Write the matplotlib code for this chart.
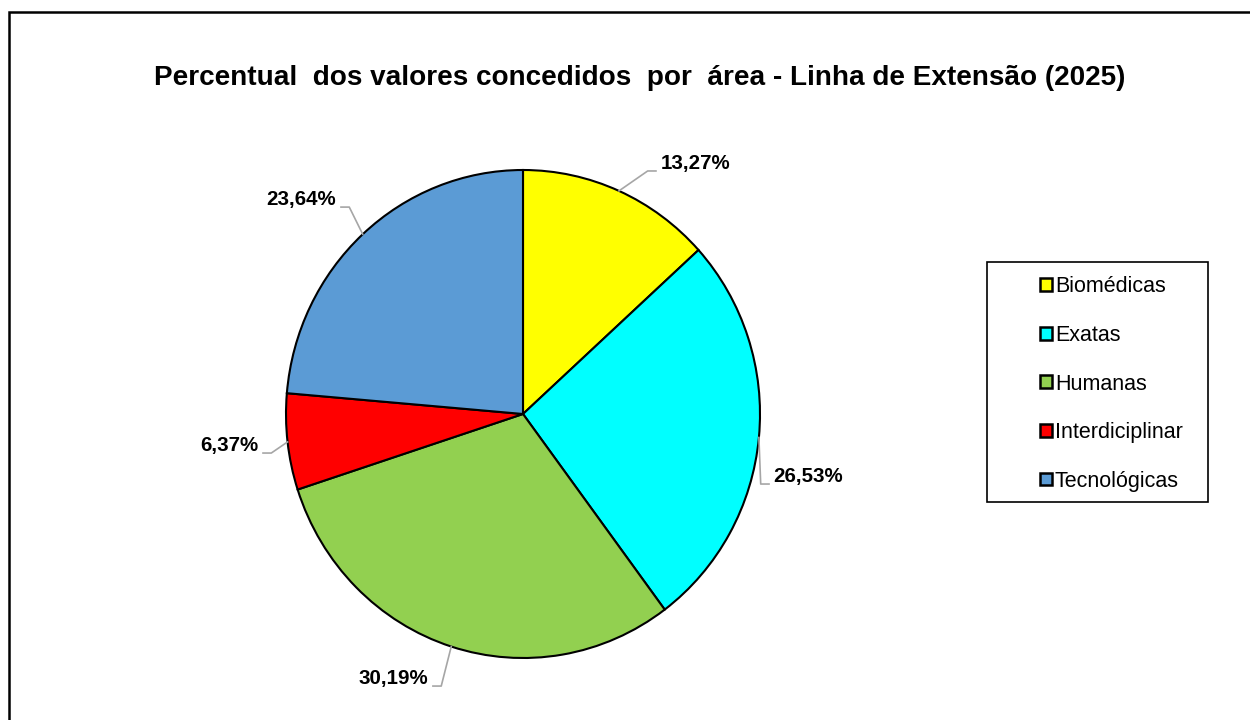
import numpy as np
import matplotlib
matplotlib.use("Agg")
from matplotlib import pyplot as plt
from matplotlib.patches import Rectangle, Patch

plt.rcParams['font.family'] = ['Liberation Sans', 'DejaVu Sans']

# data
areas = ['Biomédicas', 'Exatas', 'Humanas', 'Interdiciplinar', 'Tecnológicas']
percent = [13.27, 26.53, 30.19, 6.37, 23.64]
colors = ['#FFFF00', '#00FFFF', '#92D050', '#FF0000', '#5B9BD5']
title = 'Percentual  dos valores concedidos  por  área - Linha de Extensão (2025)'

# leader line end points (axes data units) and which side the label sits on
label_end = [(0.561, 0.996), (1.038, -0.287), (-0.380, -1.115),
             (-1.097, -0.160), (-0.768, 0.848)]
label_side = ['right', 'right', 'left', 'left', 'left']

W, H = 1250, 720
fig = plt.figure(figsize=(W / 100, H / 100), dpi=100)

# outer chart frame (runs off the right and bottom edges like the source)
fig.patches.append(Rectangle((9 / W, -0.1), 1.2, 1 + 0.1 - 12 / H,
                             transform=fig.transFigure, fill=False,
                             edgecolor='black', linewidth=1.8))

fig.text(640 / W, 1 - 78 / H, title, ha='center', va='center',
         fontsize=20.1, fontweight='bold')

# pie is slightly wider than tall in the source, so aspect is left on auto
rx, ry = 237, 244
cx, cy = 523, 414
ax = fig.add_axes([(cx - rx) / W, (H - cy - ry) / H, 2 * rx / W, 2 * ry / H])
wedges, _ = ax.pie(percent, colors=colors, startangle=90, counterclock=False,
                   wedgeprops=dict(edgecolor='black', linewidth=1.5))
ax.set_xlim(-1, 1)
ax.set_ylim(-1, 1)
ax.set_aspect('auto')
ax.axis('off')

for w, val, (ex, ey), side in zip(wedges, percent, label_end, label_side):
    mid = np.radians((w.theta1 + w.theta2) / 2)
    px, py = np.cos(mid), np.sin(mid)
    sgn = 1 if side == 'right' else -1
    elbow_x = ex - sgn * 0.035
    ax.plot([px, elbow_x, ex], [py, ey, ey], color='#A6A6A6', lw=1.2,
            clip_on=False, zorder=1)
    txt = f'{val:.2f}%'.replace('.', ',')
    ax.text(ex + sgn * 0.02, ey + 0.03, txt, ha='left' if side == 'right' else 'right',
            va='center', fontsize=14.8, fontweight='bold', clip_on=False)

# legend with its own frame
fig.patches.append(Rectangle((987 / W, 1 - 502 / H), (1208 - 987) / W, (502 - 262) / H,
                             transform=fig.transFigure, fill=False,
                             edgecolor='black', linewidth=1.2))
handles = [Patch(facecolor=c, edgecolor='black', linewidth=1.8) for c in colors]
fig.legend(handles, areas, loc='center left', bbox_to_anchor=(1029 / W, 1 - 384 / H),
           frameon=False, fontsize=15.5, handlelength=0.55, handleheight=0.55,
           handletextpad=0.15, labelspacing=1.28, borderpad=0)

fig.savefig('out.png', dpi=100)
